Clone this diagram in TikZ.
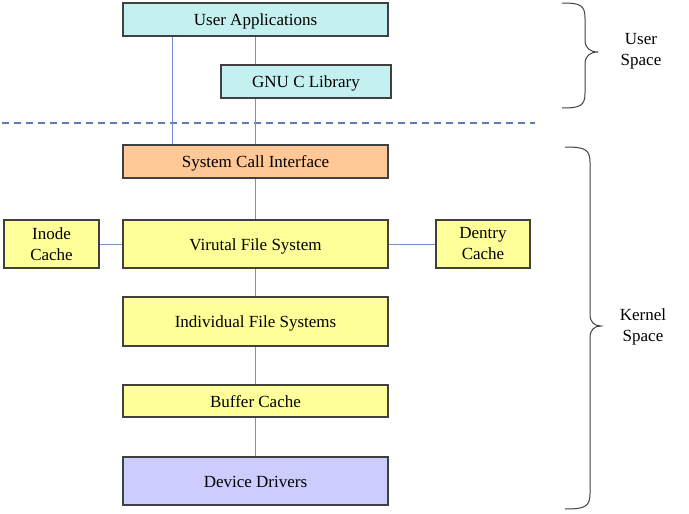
\documentclass[tikz,border=0pt]{standalone}
\usepackage{fontspec}
\setmainfont{Liberation Serif}
\usetikzlibrary{positioning, calc}
\definecolor{UserCyan}{RGB}{197, 240, 240}
\definecolor{CallOrange}{RGB}{255, 200, 150}
\definecolor{FsYellow}{RGB}{255, 255, 153}
\definecolor{DriverViolet}{RGB}{204, 204, 255}
\definecolor{LinkBlue}{RGB}{110, 146, 205}
\definecolor{EdgeGray}{RGB}{64, 64, 64}

\begin{document}
\begin{tikzpicture}[x=1pt, y=-1pt,
    layer/.style={draw=EdgeGray, line width=1.2pt, inner sep=0pt, align=center,
                  font=\fontsize{17}{21}\selectfont},
    wide/.style={layer, minimum width=265pt, text height=13pt, text depth=1pt},
    link/.style={LinkBlue, line width=0.9pt}]
            \path[use as bounding box] (0,0) rectangle (689,514);

            % User space
            \node[wide, fill=UserCyan, minimum height=33pt] (apps) at (255.5,19.5) {User Applications};
            \node[layer, fill=UserCyan, minimum width=170pt, minimum height=33pt,
                  text height=13pt, text depth=1pt] (glibc) at (306,81.5) {GNU C Library};

            % Boundary between the two spaces
            \draw[LinkBlue!85!black, line width=1.1pt, dash pattern=on 7pt off 5pt] (2,123) -- (535,123);

            % Kernel layers
            \node[wide, fill=CallOrange, minimum height=33pt] (sci) at (255.5,161.5) {System Call Interface};
            \node[wide, fill=FsYellow, minimum height=48pt] (vfs) at (255.5,244) {Virutal File System};
            \node[layer, fill=FsYellow, minimum width=95pt, minimum height=48pt] (inode) at (51.5,244) {Inode\\Cache};
            \node[layer, fill=FsYellow, minimum width=94pt, minimum height=48pt] (dentry) at (483,244) {Dentry\\Cache};
            \node[wide, fill=FsYellow, minimum height=49pt] (ifs) at (255.5,321.5) {Individual File Systems};
            \node[wide, fill=FsYellow, minimum height=32pt] (bcache) at (255.5,401) {Buffer Cache};
            \node[wide, fill=DriverViolet, minimum height=48pt] (drivers) at (255.5,481) {Device Drivers};

            % Connections
            \draw[link] ([xshift=-83.5pt]apps.south) -- ([xshift=-83.5pt]sci.north);
            \draw[link] (apps.south) -- (apps.south |- glibc.north);
            \draw[link] (glibc.south -| apps.south) -- (sci.north);
            \draw[link] (sci) -- (vfs);
            \draw[link] (inode) -- (vfs);
            \draw[link] (vfs) -- (dentry);
            \foreach \a/\b in {vfs/ifs, ifs/bcache, bcache/drivers}
                \draw[link] (\a) -- (\b);

            % Braces
            \draw[EdgeGray, line width=1pt] (562,3) .. controls (580,3) and (585,5) .. (585,18)
                -- (585,40) .. controls (585,48) and (590,52) .. (598,52)
                .. controls (590,52) and (585,56) .. (585,64)
                -- (585,93) .. controls (585,106) and (580,108) .. (562,108);
            \draw[EdgeGray, line width=1pt] (565,147) .. controls (584,147) and (590,149) .. (590,162)
                -- (590,314) .. controls (590,322) and (594,326) .. (601,326)
                .. controls (594,326) and (590,330) .. (590,338)
                -- (590,494) .. controls (590,507) and (584,509) .. (565,509);
            \node[font=\fontsize{17}{21}\selectfont, align=center] (userlbl) at (641,51) {User\\Space};
            \node[font=\fontsize{17}{21}\selectfont, align=center] (kernlbl) at (643,327) {Kernel\\Space};
\end{tikzpicture}
\end{document}
